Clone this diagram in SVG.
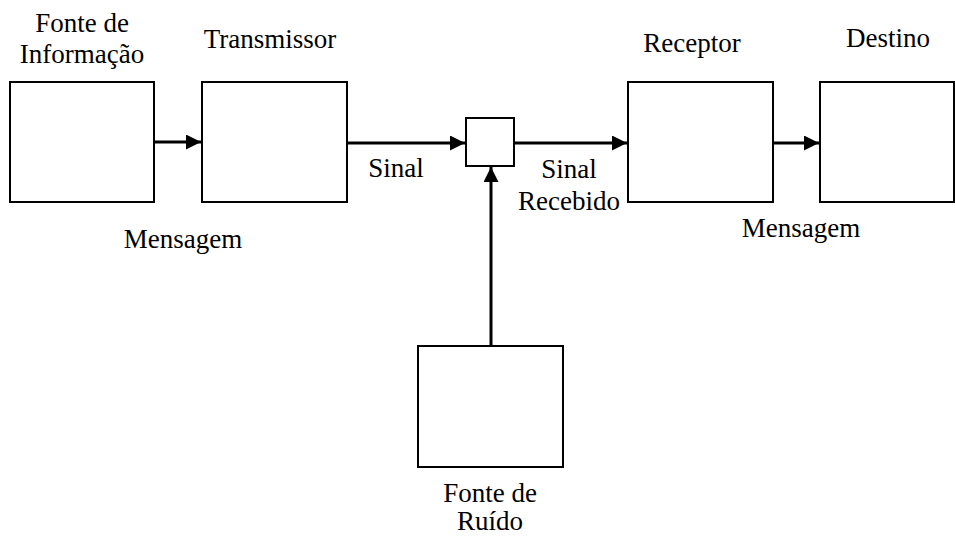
<svg xmlns="http://www.w3.org/2000/svg" width="955" height="536" viewBox="0 0 955 536">
<style>
.box{fill:#fff;stroke:#000;stroke-width:2}
.ln{stroke:#000;stroke-width:3;fill:none}
.t{font-family:'Liberation Serif','Times New Roman',Times,serif;font-size:27px;fill:#000;text-anchor:middle}
</style>
<defs>
<marker id="ah" markerWidth="5" markerHeight="5" refX="5" refY="2.5" orient="auto" markerUnits="strokeWidth">
<path d="M0,0 L5,2.5 L0,5 Z" fill="#000"/>
</marker>
</defs>
<rect width="955" height="536" fill="#fff"/>
<g id="connectors">
<line class="ln" x1="154" y1="142" x2="201" y2="142" marker-end="url(#ah)"/>
<line class="ln" x1="347" y1="143" x2="465" y2="143" marker-end="url(#ah)"/>
<line class="ln" x1="514" y1="143" x2="627" y2="143" marker-end="url(#ah)"/>
<line class="ln" x1="773" y1="143" x2="819" y2="143" marker-end="url(#ah)"/>
<line class="ln" x1="491" y1="346" x2="491" y2="167" marker-end="url(#ah)"/>
<text class="t" x="396" y="177">Sinal</text>
<text class="t" x="183" y="248">Mensagem</text>
<text class="t" x="569" y="178">Sinal</text>
<text class="t" x="569" y="210">Recebido</text>
<text class="t" x="801" y="237">Mensagem</text>
</g>
<g id="fonte-informacao">
<rect class="box" x="10" y="82" width="144" height="120"/>
<text class="t" x="82" y="32">Fonte de</text>
<text class="t" x="82" y="63">Informação</text>
</g>
<g id="transmissor">
<rect class="box" x="202" y="82" width="145" height="120"/>
<text class="t" x="270" y="48">Transmissor</text>
</g>
<g id="somador">
<rect class="box" x="466" y="118" width="48" height="48"/>
</g>
<g id="receptor">
<rect class="box" x="628" y="82" width="145" height="120"/>
<text class="t" x="692" y="52">Receptor</text>
</g>
<g id="destino">
<rect class="box" x="820" y="82" width="134" height="120"/>
<text class="t" x="888" y="47">Destino</text>
</g>
<g id="fonte-ruido">
<rect class="box" x="418" y="346" width="145" height="121"/>
<text class="t" x="490" y="502">Fonte de</text>
<text class="t" x="490" y="530">Ruído</text>
</g>
</svg>
